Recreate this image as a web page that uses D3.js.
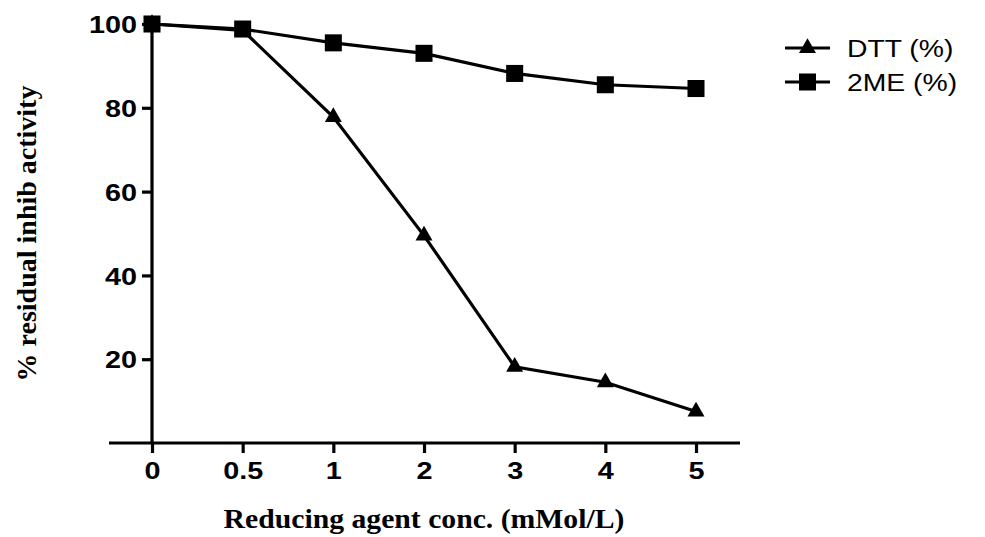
<!DOCTYPE html>
<html>
<head>
<meta charset="utf-8">
<script src="https://cdn.jsdelivr.net/npm/d3@7"></script>
<style>
  html, body { margin: 0; padding: 0; background: #fff; }
  svg { display: block; }
</style>
</head>
<body>
<svg id="chart" width="985" height="537"></svg>
<script>
const categories = ["0", "0.5", "1", "2", "3", "4", "5"];
const dttValues = [100, 98.5, 77.8, 49.5, 18.2, 14.5, 7.5];
const meValues = [100, 98.8, 95.5, 93.0, 88.2, 85.5, 84.6];
const yTicks = [20, 40, 60, 80, 100];
const seriesNames = ["DTT (%)", "2ME (%)"];
const xTitle = "Reducing agent conc. (mMol/L)";
const yTitle = "% residual inhib activity";

const svg = d3.select("#chart");
const x = d3.scalePoint().domain(categories).range([152, 696]).padding(0);
const y = d3.scaleLinear().domain([0, 100]).range([443, 24]);

const sx = 1.2; // horizontal stretch of text in the reference

// X axis
const xAxis = svg.append("g").attr("transform", `translate(0,${y(0)})`)
  .call(d3.axisBottom(x).tickSize(10).tickSizeOuter(0));
xAxis.select(".domain").remove();
xAxis.append("line")
  .attr("x1", x("0") - 43).attr("x2", x("5") + 44)
  .attr("y1", 0).attr("y2", 0)
  .attr("stroke", "#000").attr("stroke-width", 3.2);
xAxis.selectAll(".tick line").attr("stroke", "#000").attr("stroke-width", 3.2);
xAxis.selectAll(".tick text")
  .attr("x", 0).attr("y", 0).attr("dy", null)
  .attr("transform", `translate(0,36) scale(${sx},1)`)
  .attr("fill", "#000")
  .style("font-family", "Arial, 'Liberation Sans', sans-serif")
  .style("font-weight", "bold").style("font-size", "24px");

// Y axis
const yAxis = svg.append("g").attr("transform", `translate(${x("0")},0)`)
  .call(d3.axisLeft(y).tickValues(yTicks).tickSize(10).tickSizeOuter(0));
yAxis.select(".domain").remove();
yAxis.append("line")
  .attr("x1", 0).attr("x2", 0)
  .attr("y1", y(0)).attr("y2", y(100))
  .attr("stroke", "#000").attr("stroke-width", 3.2);
yAxis.selectAll(".tick line").attr("stroke", "#000").attr("stroke-width", 3.2);
yAxis.selectAll(".tick text")
  .attr("x", 0).attr("dy", "0.36em")
  .attr("transform", `translate(-15,0) scale(${sx},1)`)
  .attr("fill", "#000")
  .style("font-family", "Arial, 'Liberation Sans', sans-serif")
  .style("font-weight", "bold").style("font-size", "24px");

// Titles
svg.append("text")
  .attr("transform", `translate(${(x("0") + x("5")) / 2},528) scale(1.1,1)`)
  .attr("text-anchor", "middle")
  .style("font-family", "'Times New Roman', 'Liberation Serif', serif")
  .style("font-weight", "bold").style("font-size", "27px")
  .text(xTitle);
svg.append("text")
  .attr("transform", `translate(36,${(y(0) + y(100)) / 2}) rotate(-90)`)
  .attr("text-anchor", "middle")
  .style("font-family", "'Times New Roman', 'Liberation Serif', serif")
  .style("font-weight", "bold").style("font-size", "28px")
  .text(yTitle);

// Series
const line = d3.line().x((d, i) => x(categories[i])).y(d => y(d));
const series = [
  { name: seriesNames[0], values: dttValues, symbol: d3.symbolTriangle, size: 125 },
  { name: seriesNames[1], values: meValues, symbol: d3.symbolSquare, size: 290 }
];

series.forEach(s => {
  svg.append("path").datum(s.values)
    .attr("d", line).attr("fill", "none")
    .attr("stroke", "#000").attr("stroke-width", 3.2);
  svg.append("g").selectAll("path").data(s.values).join("path")
    .attr("d", d3.symbol().type(s.symbol).size(s.size))
    .attr("transform", (d, i) => `translate(${x(categories[i])},${y(d)})`)
    .attr("fill", "#000");
});

// Legend
const legend = svg.append("g");
series.forEach((s, i) => {
  const g = legend.append("g").attr("transform", `translate(785,${48 + i * 34})`);
  g.append("line").attr("x1", 0).attr("x2", 45).attr("y1", 0).attr("y2", 0)
    .attr("stroke", "#000").attr("stroke-width", 3.2);
  g.append("path").attr("d", d3.symbol().type(s.symbol).size(s.size))
    .attr("transform", "translate(22.5,0)").attr("fill", "#000");
  g.append("text")
    .attr("transform", `translate(62,0) scale(1.18,1)`)
    .attr("dy", "0.36em")
    .style("font-family", "Arial, 'Liberation Sans', sans-serif")
    .style("font-size", "24px")
    .text(s.name);
});
</script>
</body>
</html>
